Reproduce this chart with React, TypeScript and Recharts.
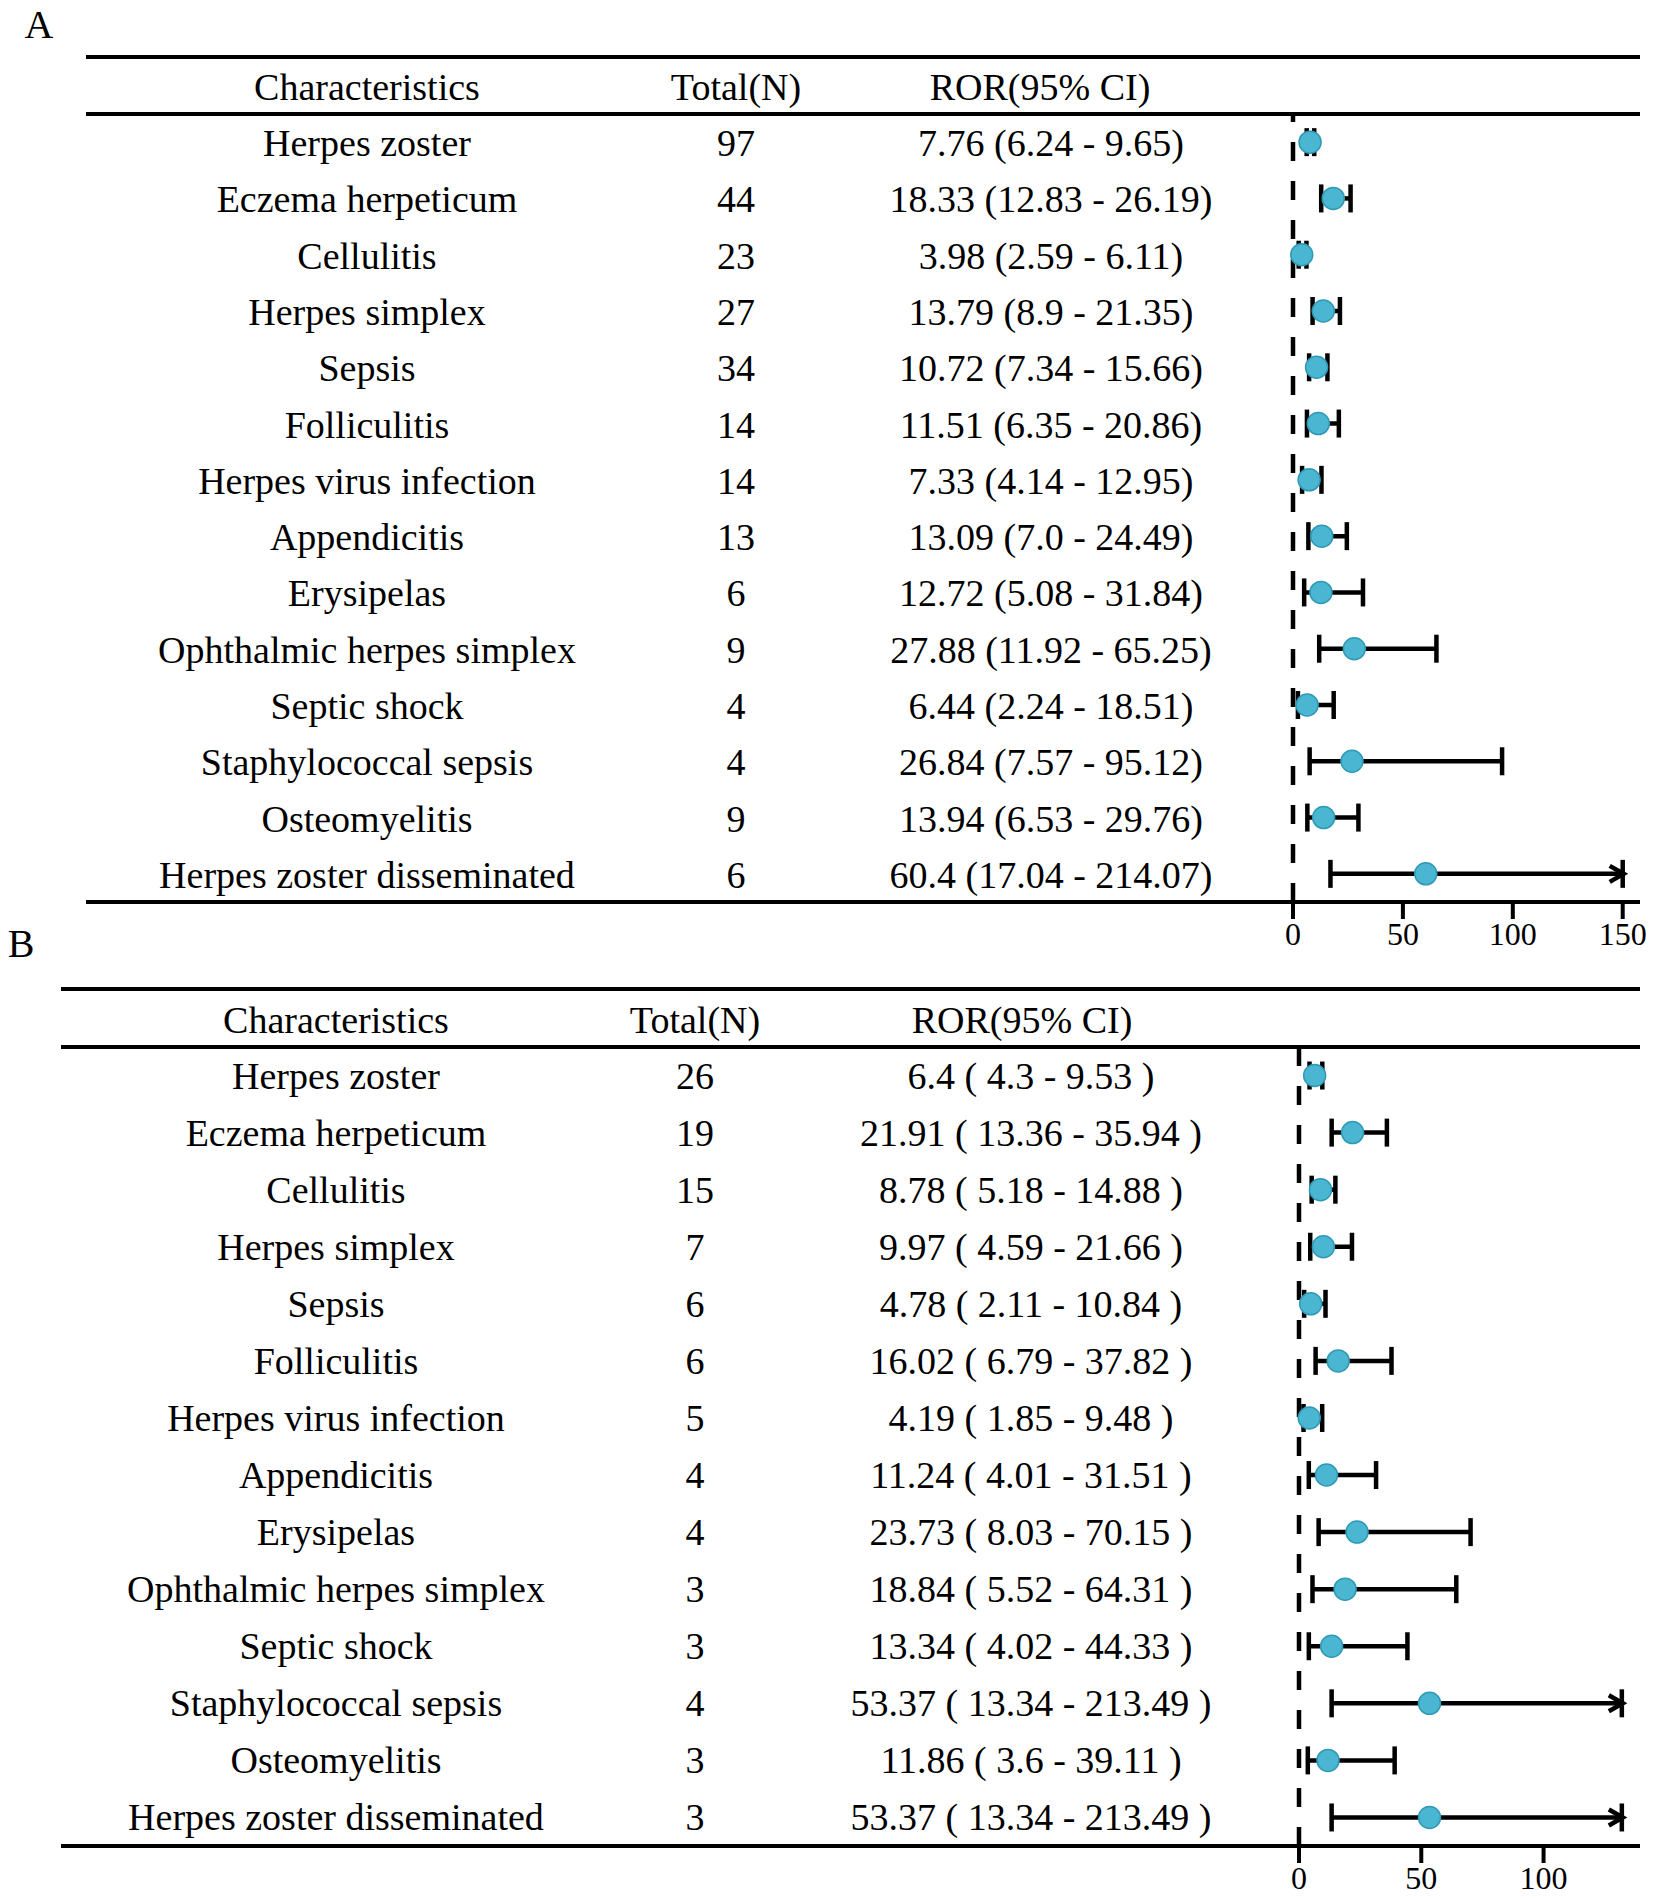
import React from 'react';
import { ScatterChart, Scatter, XAxis, YAxis, ErrorBar, ReferenceLine } from 'recharts';

const FONT = '"Liberation Serif", "Times New Roman", serif';

// row names, shared by both panels
const NAMES = [
  'Herpes zoster',
  'Eczema herpeticum',
  'Cellulitis',
  'Herpes simplex',
  'Sepsis',
  'Folliculitis',
  'Herpes virus infection',
  'Appendicitis',
  'Erysipelas',
  'Ophthalmic herpes simplex',
  'Septic shock',
  'Staphylococcal sepsis',
  'Osteomyelitis',
  'Herpes zoster disseminated',
];

// panel A
const A_N = [97, 44, 23, 27, 34, 14, 14, 13, 6, 9, 4, 4, 9, 6];
const A_ROR = [7.76, 18.33, 3.98, 13.79, 10.72, 11.51, 7.33, 13.09, 12.72, 27.88, 6.44, 26.84, 13.94, 60.4];
const A_LOW = [6.24, 12.83, 2.59, 8.9, 7.34, 6.35, 4.14, 7.0, 5.08, 11.92, 2.24, 7.57, 6.53, 17.04];
const A_HIGH = [9.65, 26.19, 6.11, 21.35, 15.66, 20.86, 12.95, 24.49, 31.84, 65.25, 18.51, 95.12, 29.76, 214.07];
const A_LABELS = [
  '7.76 (6.24 - 9.65)',
  '18.33 (12.83 - 26.19)',
  '3.98 (2.59 - 6.11)',
  '13.79 (8.9 - 21.35)',
  '10.72 (7.34 - 15.66)',
  '11.51 (6.35 - 20.86)',
  '7.33 (4.14 - 12.95)',
  '13.09 (7.0 - 24.49)',
  '12.72 (5.08 - 31.84)',
  '27.88 (11.92 - 65.25)',
  '6.44 (2.24 - 18.51)',
  '26.84 (7.57 - 95.12)',
  '13.94 (6.53 - 29.76)',
  '60.4 (17.04 - 214.07)',
];
const A_TICKS = [0, 50, 100, 150];

// panel B
const B_N = [26, 19, 15, 7, 6, 6, 5, 4, 4, 3, 3, 4, 3, 3];
const B_ROR = [6.4, 21.91, 8.78, 9.97, 4.78, 16.02, 4.19, 11.24, 23.73, 18.84, 13.34, 53.37, 11.86, 53.37];
const B_LOW = [4.3, 13.36, 5.18, 4.59, 2.11, 6.79, 1.85, 4.01, 8.03, 5.52, 4.02, 13.34, 3.6, 13.34];
const B_HIGH = [9.53, 35.94, 14.88, 21.66, 10.84, 37.82, 9.48, 31.51, 70.15, 64.31, 44.33, 213.49, 39.11, 213.49];
const B_LABELS = [
  '6.4 ( 4.3 - 9.53 )',
  '21.91 ( 13.36 - 35.94 )',
  '8.78 ( 5.18 - 14.88 )',
  '9.97 ( 4.59 - 21.66 )',
  '4.78 ( 2.11 - 10.84 )',
  '16.02 ( 6.79 - 37.82 )',
  '4.19 ( 1.85 - 9.48 )',
  '11.24 ( 4.01 - 31.51 )',
  '23.73 ( 8.03 - 70.15 )',
  '18.84 ( 5.52 - 64.31 )',
  '13.34 ( 4.02 - 44.33 )',
  '53.37 ( 13.34 - 213.49 )',
  '11.86 ( 3.6 - 39.11 )',
  '53.37 ( 13.34 - 213.49 )',
];
const B_TICKS = [0, 50, 100];

const HEADERS = ['Characteristics', 'Total(N)', 'ROR(95% CI)'];
const ROW_TICKS = NAMES.map((_, i) => i);

const DOT_FILL = '#4bb6d1';
const DOT_STROKE = '#2f9ab5';

const Dot = (props: any) => {
  const { cx, cy } = props;
  if (cx == null || cy == null) return null;
  return <circle cx={cx} cy={cy} r={11} fill={DOT_FILL} stroke={DOT_STROKE} strokeWidth={1.5} />;
};

const Arrow = (props: any) => {
  const { cx, cy } = props;
  if (cx == null || cy == null) return null;
  return (
    <path
      d={`M${cx - 13},${cy - 8} L${cx + 1},${cy} L${cx - 13},${cy + 8}`}
      stroke="#000"
      strokeWidth={4.5}
      fill="none"
    />
  );
};

interface PanelProps {
  top: number;
  height: number;
  margin: { top: number; right: number; bottom: number; left: number };
  yWidth: number;
  xMax: number;
  cap: number;
  ticks: number[];
  n: number[];
  ror: number[];
  low: number[];
  high: number[];
  labels: string[];
  cols: number[];
  dy: number;
}

function Panel(p: PanelProps) {
  const points = NAMES.map((_, i) => ({
    row: i,
    x: p.ror[i],
    err: [p.ror[i] - p.low[i], Math.min(p.high[i], p.cap) - p.ror[i]],
  }));
  const arrows = NAMES.map((_, i) => ({ row: i, x: p.cap, over: p.high[i] > p.cap })).filter(d => d.over);

  const RowTick = (props: any) => {
    const i = props.payload?.value;
    if (i == null || NAMES[i] == null) return null;
    const y = props.y + p.dy;
    const style = { fontSize: 38, fontFamily: FONT, fill: '#000' };
    return (
      <g>
        <text x={p.cols[0]} y={y} textAnchor="middle" {...style}>{NAMES[i]}</text>
        <text x={p.cols[1]} y={y} textAnchor="middle" {...style}>{p.n[i]}</text>
        <text x={p.cols[2]} y={y} textAnchor="middle" {...style}>{p.labels[i]}</text>
      </g>
    );
  };

  return (
    <div style={{ position: 'absolute', left: 0, top: p.top }}>
      <ScatterChart width={1654} height={p.height} margin={p.margin}>
        <XAxis
          type="number"
          dataKey="x"
          domain={[0, p.xMax]}
          ticks={p.ticks}
          axisLine={false}
          tickLine={{ stroke: '#000', strokeWidth: 4 }}
          tickSize={17}
          tickMargin={3}
          height={40}
          interval={0}
          tick={{ fontSize: 32, fontFamily: FONT, fill: '#000' }}
        />
        <YAxis
          type="number"
          dataKey="row"
          domain={[-0.5, 13.5]}
          reversed
          ticks={ROW_TICKS}
          interval={0}
          width={p.yWidth}
          axisLine={false}
          tickLine={false}
          tick={<RowTick />}
        />
        <ReferenceLine x={0} stroke="#000" strokeWidth={4.5} strokeDasharray="19 20" />
        <Scatter data={points} shape={<Dot />} isAnimationActive={false}>
          <ErrorBar dataKey="err" direction="x" width={14} stroke="#000" strokeWidth={4.5} />
        </Scatter>
        <Scatter data={arrows} shape={<Arrow />} isAnimationActive={false} />
      </ScatterChart>
    </div>
  );
}

export default function App() {
  const hStyle = { fontSize: 38, fontFamily: FONT, fill: '#000' };
  return (
    <div style={{ position: 'absolute', left: 0, top: 0, width: 1654, height: 1898, background: '#fff' }}>
      <style>{'.recharts-errorBar line { stroke-width: 4.5px; stroke: #000; }'}</style>
      <Panel
        top={0}
        height={990}
        margin={{ top: 114, right: 17, bottom: 48, left: 0 }}
        yWidth={1293}
        xMax={156.5}
        cap={150}
        ticks={A_TICKS}
        n={A_N}
        ror={A_ROR}
        low={A_LOW}
        high={A_HIGH}
        labels={A_LABELS}
        cols={[367, 736, 1051]}
        dy={14}
      />
      <Panel
        top={950}
        height={948}
        margin={{ top: 97, right: 17, bottom: 12, left: 0 }}
        yWidth={1299}
        xMax={138.2}
        cap={132}
        ticks={B_TICKS}
        n={B_N}
        ror={B_ROR}
        low={B_LOW}
        high={B_HIGH}
        labels={B_LABELS}
        cols={[336, 695, 1031]}
        dy={13}
      />
      <svg width={1654} height={1898} style={{ position: 'absolute', left: 0, top: 0, pointerEvents: 'none' }}>
        <text x={39} y={38} textAnchor="middle" style={{ fontSize: 40, fontFamily: FONT }}>A</text>
        <line x1={86} x2={1640} y1={57} y2={57} stroke="#000" strokeWidth={4} />
        <line x1={86} x2={1640} y1={114} y2={114} stroke="#000" strokeWidth={4} />
        <line x1={86} x2={1640} y1={902} y2={902} stroke="#000" strokeWidth={4} />
        <text x={367} y={100} textAnchor="middle" {...hStyle}>{HEADERS[0]}</text>
        <text x={736} y={100} textAnchor="middle" {...hStyle}>{HEADERS[1]}</text>
        <text x={1040} y={100} textAnchor="middle" {...hStyle}>{HEADERS[2]}</text>

        <text x={21} y={957} textAnchor="middle" style={{ fontSize: 40, fontFamily: FONT }}>B</text>
        <line x1={61} x2={1640} y1={989} y2={989} stroke="#000" strokeWidth={4} />
        <line x1={61} x2={1640} y1={1047} y2={1047} stroke="#000" strokeWidth={4} />
        <line x1={61} x2={1640} y1={1846} y2={1846} stroke="#000" strokeWidth={4} />
        <text x={336} y={1033} textAnchor="middle" {...hStyle}>{HEADERS[0]}</text>
        <text x={695} y={1033} textAnchor="middle" {...hStyle}>{HEADERS[1]}</text>
        <text x={1022} y={1033} textAnchor="middle" {...hStyle}>{HEADERS[2]}</text>
      </svg>
    </div>
  );
}
